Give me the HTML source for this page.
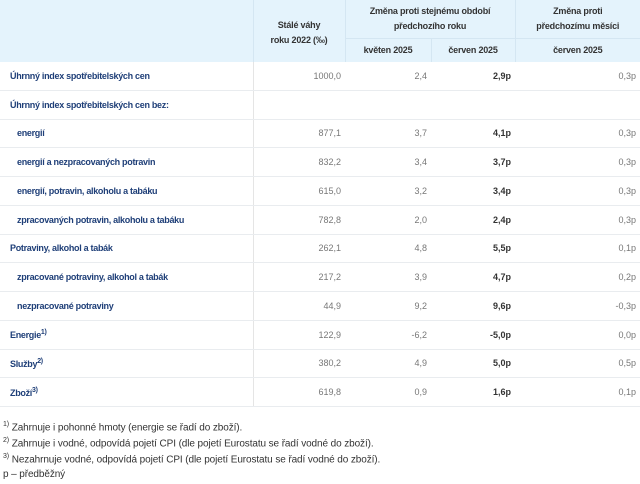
<!DOCTYPE html>
<html><head><meta charset="utf-8"><style>
body{margin:0;width:640px;height:484px;background:#fff;font-family:"Liberation Sans",sans-serif;overflow:hidden;position:relative}
table{position:absolute;left:0;top:0;width:640px;border-collapse:collapse;font-size:9px}
th{background:#e4f3fc;color:#333;font-weight:bold;text-align:center;border-left:1px solid #d4e6f2;line-height:15px;letter-spacing:-0.2px}
th.f{border-left:none}
td{height:27.75px;padding:0;border-bottom:1px solid #e9ecef;color:#777;text-align:right;padding-right:4px}
td.l{text-align:left;color:#1f3f78;font-weight:bold;padding-left:10px;border-right:1px solid #e5e5e5;letter-spacing:-0.3px}
td.i{padding-left:17px}
td.b{color:#333;font-weight:bold}
sup{font-size:7px}
.fn{position:absolute;left:3px;font-size:10px;color:#333;letter-spacing:-0.1px}
.fn sup{font-size:7px}
</style></head><body>
<table>
<colgroup><col style="width:253px"><col style="width:92px"><col style="width:86px"><col style="width:84px"><col style="width:125px"></colgroup>
<tr style="height:38px"><th class="f" rowspan="2"></th><th rowspan="2" style="padding-top:4px">Stálé váhy<br>roku 2022 (‰)</th><th colspan="2">Změna proti stejnému období<br>předchozího roku</th><th>Změna proti<br>předchozímu měsíci</th></tr>
<tr style="height:24px"><th style="border-top:1px solid #d4e6f2">květen 2025</th><th style="border-top:1px solid #d4e6f2">červen 2025</th><th style="border-top:1px solid #d4e6f2">červen 2025</th></tr>
<tr><td class="l">Úhrnný index spotřebitelských cen</td><td>1000,0</td><td>2,4</td><td class="b">2,9p</td><td>0,3p</td></tr>
<tr><td class="l">Úhrnný index spotřebitelských cen bez:</td><td></td><td></td><td></td><td></td></tr>
<tr><td class="l i">energií</td><td>877,1</td><td>3,7</td><td class="b">4,1p</td><td>0,3p</td></tr>
<tr><td class="l i">energií a nezpracovaných potravin</td><td>832,2</td><td>3,4</td><td class="b">3,7p</td><td>0,3p</td></tr>
<tr><td class="l i">energií, potravin, alkoholu a tabáku</td><td>615,0</td><td>3,2</td><td class="b">3,4p</td><td>0,3p</td></tr>
<tr><td class="l i">zpracovaných potravin, alkoholu a tabáku</td><td>782,8</td><td>2,0</td><td class="b">2,4p</td><td>0,3p</td></tr>
<tr><td class="l">Potraviny, alkohol a tabák</td><td>262,1</td><td>4,8</td><td class="b">5,5p</td><td>0,1p</td></tr>
<tr><td class="l i">zpracované potraviny, alkohol a tabák</td><td>217,2</td><td>3,9</td><td class="b">4,7p</td><td>0,2p</td></tr>
<tr><td class="l i">nezpracované potraviny</td><td>44,9</td><td>9,2</td><td class="b">9,6p</td><td>-0,3p</td></tr>
<tr><td class="l">Energie<sup>1)</sup></td><td>122,9</td><td>-6,2</td><td class="b">-5,0p</td><td>0,0p</td></tr>
<tr><td class="l">Služby<sup>2)</sup></td><td>380,2</td><td>4,9</td><td class="b">5,0p</td><td>0,5p</td></tr>
<tr><td class="l">Zboží<sup>3)</sup></td><td>619,8</td><td>0,9</td><td class="b">1,6p</td><td>0,1p</td></tr>
</table>
<div class="fn" style="top:421px"><sup>1)</sup> Zahrnuje i pohonné hmoty (energie se řadí do zboží).</div>
<div class="fn" style="top:437px"><sup>2)</sup> Zahrnuje i vodné, odpovídá pojetí CPI (dle pojetí Eurostatu se řadí vodné do zboží).</div>
<div class="fn" style="top:453px"><sup>3)</sup> Nezahrnuje vodné, odpovídá pojetí CPI (dle pojetí Eurostatu se řadí vodné do zboží).</div>
<div class="fn" style="top:469px">p – předběžný</div>
</body></html>
